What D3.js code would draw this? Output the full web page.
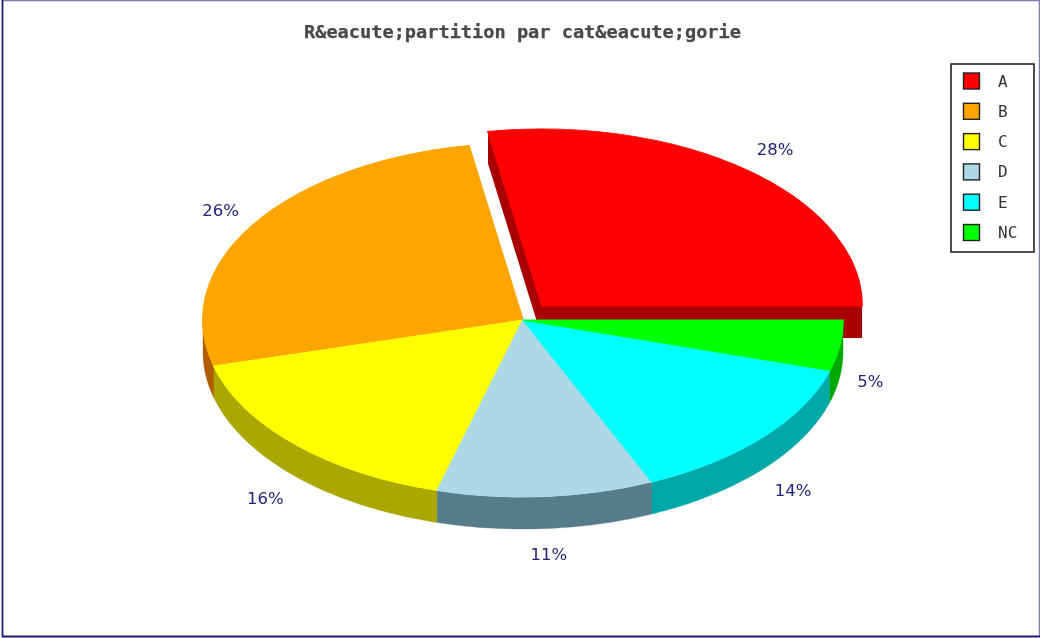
<!DOCTYPE html>
<html><head><meta charset="utf-8">
<script src="https://cdn.jsdelivr.net/npm/d3@7/dist/d3.min.js"></script>
<style>html,body{margin:0;padding:0;background:#fff;overflow:hidden}svg{display:block}</style>
</head><body><svg id="c" width="1040" height="638"></svg>
<script>
const titleText = "R&eacute;partition par cat&eacute;gorie";
const categories = ["A","B","C","D","E","NC"];
const shares = [27.7,26.49,16.49,10.92,13.8,4.6];
const topColors = ["#ff0000","#ffa500","#ffff00","#add8e6","#00ffff","#00ff00"];
const wallColors = ["#a80000","#b05c00","#aaa800","#567c8a","#00a8a8","#00a800"];
const explodedSlices = ["A"];

const cx=523, cy=320, rx=320, ry=177, depth=32;
const explodeX=29.5, explodeY=18.3, labelRx=360, labelRy=205, lowerShift=34;
const labelNudgeX={A:1,B:1,C:-2,D:0,E:0,NC:-9};
const labelNudgeY={A:0,B:0,C:0,D:-4,E:0,NC:-3};
const defs=d3.select("#c").append("defs");
defs.append("filter").attr("id","soft").attr("x",0).attr("y",0).attr("width",1).attr("height",1)
  .append("feGaussianBlur").attr("stdDeviation",0.4);
const svg=d3.select("#c").append("g").attr("filter","url(#soft)");
svg.append("rect").attr("width",1040).attr("height",638).attr("fill","#fff");
// frame: lighter top and right edges, darker left and bottom edges
const frame=svg.append("g").attr("fill","none");
frame.append("path").attr("d",d3.line()([[2,0.5],[1039.5,0.5],[1039.5,636]])).attr("stroke","#7a7ab4").attr("stroke-width",1.4);
frame.append("path").attr("d",d3.line()([[2.5,0],[2.5,636.5],[1040,636.5]])).attr("stroke","#1c1c74").attr("stroke-width",1.8);

svg.append("text").attr("x",522.5).attr("y",37.5).attr("text-anchor","middle")
  .attr("font-family","'DejaVu Sans Mono','Liberation Mono',monospace").attr("font-weight","bold")
  .attr("font-size",17).attr("textLength",437).attr("lengthAdjust","spacingAndGlyphs")
  .attr("fill","#484848").attr("stroke","#484848").attr("stroke-width",0.25).text(titleText);

// data angles: start at east, counter-clockwise (d3 angles are clockwise from north)
const pie=d3.pie().sort(null).value(d=>d.v).startAngle(Math.PI/2).endAngle(Math.PI/2-2*Math.PI);
const slices=pie(categories.map((c,i)=>({c,v:shares[i],top:topColors[i],wall:wallColors[i]})));
const px=a=>Math.sin(a), py=a=>-Math.cos(a);
const arc=d3.arc().innerRadius(0).outerRadius(1);
const line=d3.line();

slices.forEach(s=>{
  s.mid=(s.startAngle+s.endAngle)/2;
  s.ex=explodedSlices.includes(s.data.c);
  s.ox=cx+(s.ex?explodeX*px(s.mid):0);
  s.oy=cy+(s.ex?explodeY*py(s.mid):0);
});

const pt=(s,a,dz=0)=>[s.ox+rx*px(a), s.oy+ry*py(a)+dz];
function radialWall(g,s,a){
  g.append("path").attr("fill",s.data.wall).attr("d",line([
    [s.ox,s.oy],pt(s,a),pt(s,a,depth),[s.ox,s.oy+depth]])+"Z");
}
function frontWall(g,s){
  const a1=Math.min(s.startAngle,-Math.PI/2), a2=Math.max(s.endAngle,-3*Math.PI/2);
  if(a1<=a2) return;
  const n=60, as=d3.range(n+1).map(i=>a1+(a2-a1)*i/n);
  const top=as.map(a=>pt(s,a)), bot=as.map(a=>pt(s,a,depth)).reverse();
  g.append("path").attr("fill",s.data.wall).attr("stroke",s.data.wall).attr("stroke-width",0.4)
    .attr("d",line(top.concat(bot))+"Z");
}
const g=svg.append("g");
const exploded=slices.filter(s=>s.ex), rest=slices.filter(s=>!s.ex);
exploded.forEach(s=>{radialWall(g,s,s.startAngle);radialWall(g,s,s.endAngle);frontWall(g,s);});
exploded.forEach(drawTop);
rest.forEach(s=>frontWall(g,s));
rest.forEach(drawTop);
function drawTop(s){
  g.append("path").attr("fill",s.data.top).attr("stroke",s.data.top).attr("stroke-width",0.005)
    .attr("transform",`translate(${s.ox},${s.oy}) scale(${rx},${ry})`)
    .attr("d",arc({startAngle:s.startAngle,endAngle:s.endAngle}));
}

// percentage labels
const fmt=d3.format(".0f");
svg.append("g").selectAll("text").data(slices).join("text")
  .attr("x",s=>s.ox+labelRx*px(s.mid)+labelNudgeX[s.data.c])
  .attr("y",s=>s.oy+labelRy*py(s.mid)+(py(s.mid)>0?lowerShift:0)+6+labelNudgeY[s.data.c])
  .attr("text-anchor","middle").attr("font-family","'DejaVu Sans',sans-serif").attr("font-size",16.5)
  .attr("fill","#24247c").text(s=>fmt(s.data.v)+"%");

// legend
const legX=951, legY=64, legW=83, legH=188;
const leg=svg.append("g");
leg.append("rect").attr("x",legX).attr("y",legY).attr("width",legW).attr("height",legH)
  .attr("fill","#fff").attr("stroke","#222").attr("stroke-width",1.6);
const ly=d3.scalePoint().domain(categories).range([legY+17,legY+168.5]);
const row=leg.selectAll("g").data(slices).join("g").attr("transform",s=>`translate(0,${ly(s.data.c)})`);
row.append("rect").attr("x",legX+12.5).attr("y",-8).attr("width",16).attr("height",16)
  .attr("fill",s=>s.data.top).attr("stroke","#222").attr("stroke-width",1.4);
row.append("text").attr("x",legX+47).attr("y",5.5)
  .attr("font-family","'DejaVu Sans Mono',monospace").attr("font-size",16)
  .attr("fill","#333").text(s=>s.data.c);
</script></body></html>
